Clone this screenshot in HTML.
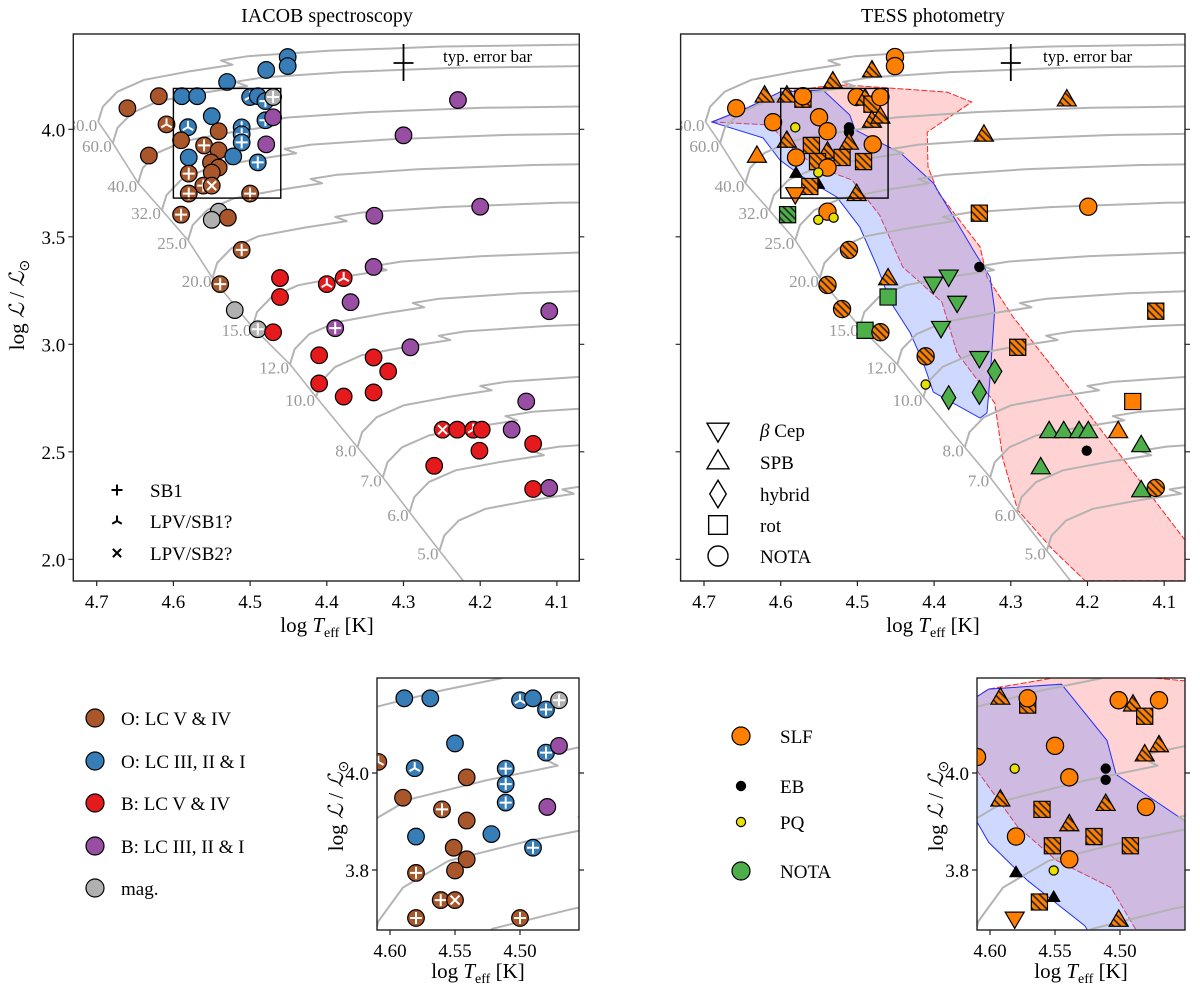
<!DOCTYPE html>
<html><head><meta charset="utf-8"><title>IACOB / TESS HRD</title>
<style>
html,body{margin:0;padding:0;background:#fff;width:1200px;height:994px;overflow:hidden;}
svg{display:block;font-family:"Liberation Serif",serif;}
</style></head>
<body>
<svg id="fig" xmlns="http://www.w3.org/2000/svg" width="1200" height="994" viewBox="0 0 1200 994">
<defs>
<pattern id="hO" width="5" height="5" patternUnits="userSpaceOnUse" patternTransform="rotate(-45)">
<rect width="5" height="5" fill="#ff7f00"/><line x1="2.5" y1="0" x2="2.5" y2="5" stroke="#222" stroke-width="1.6"/></pattern>
<pattern id="hG" width="5" height="5" patternUnits="userSpaceOnUse" patternTransform="rotate(-45)">
<rect width="5" height="5" fill="#4daf4a"/><line x1="2.5" y1="0" x2="2.5" y2="5" stroke="#222" stroke-width="1.6"/></pattern>
<clipPath id="cL"><rect x="73.3" y="34" width="506" height="547"/></clipPath>
<clipPath id="cR"><rect x="680.6" y="34" width="504.4" height="547"/></clipPath>
<clipPath id="cLI"><rect x="377" y="678" width="202" height="252"/></clipPath>
<clipPath id="cRI"><rect x="977" y="678" width="208" height="252"/></clipPath>
</defs>
</svg>
<script>
// ---------------- DATA ----------------
const zamsMass = [80,60,40,32,25,20,15,12,10,8,7,6,5];
const zamsT = [4.698,4.679,4.646,4.615,4.581,4.549,4.497,4.448,4.414,4.360,4.327,4.292,4.253];
const zamsL = [4.035,3.936,3.750,3.624,3.484,3.308,3.080,2.907,2.755,2.521,2.381,2.219,2.040];

const iacT = [4.660,4.619,4.589,4.569,4.530,4.479,4.451,4.451,4.609,4.581,4.632,4.590,4.560,4.550,4.541,4.541,4.580,4.580,4.551,4.541,4.550,4.561,4.550,4.580,4.500,4.511,4.511,4.511,4.522,4.490,4.500,4.490,4.480,4.470,4.480,4.470,4.479,4.590,4.541,4.550,4.529,4.511,4.539,4.520,4.490,4.470,4.461,4.461,4.400,4.378,4.339,4.369,4.389,4.110,4.291,4.410,4.410,4.339,4.320,4.378,4.339,4.140,4.249,4.230,4.209,4.198,4.159,4.201,4.131,4.260,4.131,4.110,4.229,4.300,4.338,4.200];
const iacL = [4.098,4.154,4.154,4.154,4.220,4.276,4.336,4.294,4.023,4.010,3.878,3.949,3.925,4.061,3.991,3.902,3.869,3.794,3.846,3.822,3.799,3.738,3.738,3.701,3.701,4.009,3.977,3.939,3.874,3.846,4.150,4.154,4.131,4.150,4.042,4.056,3.930,3.603,3.617,3.579,3.589,3.439,3.280,3.159,3.070,3.056,3.308,3.220,3.280,3.308,3.360,3.196,3.075,3.154,2.986,2.949,2.818,2.939,2.874,2.757,2.776,2.734,2.603,2.603,2.603,2.603,2.603,2.505,2.537,2.435,2.327,2.332,4.136,3.972,3.598,3.640];
const iacClass = ["OV","OV","OI","OI","OI","OI","OI","OI","OV","OI","OV","OV","OV","OI","OV","OV","OI","OV","OV","OV","OV","OV","OV","OV","OV","OI","OI","OI","OI","OI","OI","OI","OI","mag","OI","BI","BI","OV","mag","mag","OV","OV","OV","mag","mag","BV","BV","BV","BV","BV","BI","BI","BI","BI","BI","BV","BV","BV","BV","BV","BV","BI","BV","BV","BV","BV","BI","BV","BV","BV","BV","BI","BI","BI","BI","BI"];
const iacBin = ["","","","","","","","","LPV1","LPV1","","","SB1","","","","","SB1","","","","SB1","LPV2","SB1","SB1","SB1","SB1","SB1","","SB1","LPV1","","SB1","SB1","SB1","","","SB1","","","","SB1","SB1","","SB1","","","","LPV1","LPV1","","","SB1","","","","","","","","","","LPV2","","LPV1","","","","","","","","","","",""];

const tesT = [4.658,4.621,4.592,4.571,4.571,4.532,4.481,4.451,4.451,4.501,4.490,4.481,4.470,4.481,4.470,4.610,4.581,4.550,4.539,4.511,4.511,4.631,4.592,4.560,4.539,4.511,4.480,4.580,4.552,4.520,4.492,4.539,4.580,4.551,4.551,4.562,4.581,4.501,4.591,4.539,4.551,4.531,4.511,4.539,4.520,4.490,4.460,4.460,4.470,4.341,4.381,4.401,4.370,4.391,4.341,4.321,4.341,4.381,4.411,4.411,4.291,4.111,4.141,4.250,4.231,4.211,4.199,4.160,4.130,4.201,4.261,4.130,4.111,4.199,4.227,4.335,4.341];
const tesL = [4.098,4.154,4.154,4.140,4.154,4.220,4.271,4.336,4.294,4.150,4.140,4.117,4.150,4.037,4.056,4.033,4.009,4.056,3.991,4.009,3.986,3.874,3.944,3.925,3.893,3.935,3.930,3.869,3.850,3.869,3.850,3.822,3.794,3.799,3.743,3.734,3.701,3.696,3.603,3.617,3.579,3.589,3.439,3.276,3.164,3.065,3.220,3.304,3.056,3.360,3.318,3.285,3.196,3.079,2.939,2.874,2.776,2.752,2.813,2.944,2.986,3.154,2.734,2.593,2.593,2.593,2.593,2.593,2.528,2.505,2.425,2.318,2.332,3.640,4.136,3.972,3.610];
const tesVar = ["SLF","SLF","SLF","SLF","SLF","SLF","SLF","SLF","SLF","SLF","SLF","SLF","SLF","SLF","SLF","SLF","PQ","SLF","SLF","EB","EB","SLF","SLF","SLF","SLF","SLF","SLF","SLF","SLF","SLF","SLF","SLF","EB","PQ","EB","SLF","SLF","SLF","NOTA","SLF","PQ","PQ","SLF","SLF","SLF","NOTA","NOTA","SLF","SLF","EB","NOTA","NOTA","NOTA","NOTA","NOTA","NOTA","NOTA","NOTA","PQ","SLF","SLF","SLF","SLF","NOTA","NOTA","NOTA","NOTA","SLF","NOTA","EB","NOTA","NOTA","SLF","SLF","SLF","SLF","SLF"];
const tesShape = ["nota","spb","spb","rot","nota","spb","spb","nota","nota","nota","spb","rot","nota","spb","spb","nota","nota","nota","nota","nota","nota","spb","spb","rot","spb","spb","nota","nota","rot","rot","rot","nota","spb","nota","spb","rot","bc","spb","rot","nota","nota","nota","nota","nota","nota","rot","rot","spb","nota","nota","bc","bc","bc","bc","bc","hyb","hyb","hyb","nota","nota","rot","rot","rot","spb","spb","spb","spb","spb","spb","nota","spb","spb","nota","nota","spb","spb","rot"];
const tesHatch = [0,1,1,1,0,1,1,0,0,0,1,1,0,1,1,0,0,0,0,0,0,0,1,1,1,1,0,0,1,1,1,0,0,0,0,1,0,1,1,0,0,0,1,1,1,0,0,1,1,0,0,0,0,0,0,0,0,0,0,1,1,1,0,0,0,0,0,0,0,0,0,0,1,0,1,1,1];

const betaCepT = [4.690,4.644,4.601,4.545,4.510,4.503,4.444,4.401,4.362,4.349,4.327,4.321,4.327,4.331,4.340,4.401,4.414,4.431,4.457,4.474,4.497,4.527,4.571,4.601,4.623];
const betaCepL = [4.034,4.099,4.173,4.183,4.067,3.997,3.890,3.750,3.518,3.439,3.313,3.160,2.848,2.681,2.657,2.778,2.913,3.053,3.197,3.360,3.546,3.685,3.778,3.857,3.960];
const spbT = [4.690,4.614,4.579,4.549,4.507,4.471,4.441,4.390,4.370,4.321,4.310,4.291,4.245,4.203,4.073,4.073,4.219,4.297,4.331,4.340,4.395,4.408,4.409,4.351,4.383,4.514,4.549,4.601,4.644];
const spbL = [4.034,4.020,3.890,3.820,3.764,3.601,3.360,3.197,2.960,2.727,2.462,2.229,2.044,1.900,1.900,2.090,2.774,3.127,3.313,3.453,3.708,3.825,3.987,4.127,4.173,4.206,4.197,4.173,4.099];

const trackDT = [0,-0.006,-0.025,-0.06,-0.12,-0.175,-0.16,-0.195,-0.3,-0.45,-0.75];
const trackDL = [0,0.07,0.14,0.195,0.235,0.265,0.285,0.305,0.33,0.35,0.365];

const xTicksMain = [4.7,4.6,4.5,4.4,4.3,4.2,4.1];
const yTicksMain = [2.0,2.5,3.0,3.5,4.0];
const xTicksInset = [4.60,4.55,4.50];
const yTicksInset = [3.8,4.0];

// ---------------- HELPERS ----------------
const NS="http://www.w3.org/2000/svg";
const svg=document.getElementById('fig');
function mk(tag,parent){const e=document.createElementNS(NS,tag);parent.appendChild(e);return e;}
function at(e,o){for(const k in o)e.setAttribute(k,o[k]);return e;}
const panels={
 L:{x0:73.3,x1:579.3,y0:34,y1:581,Tref:4.7,xref:96.7,sx:767,Lref:4.0,yref:129.3,sy:215,clip:'cL'},
 R:{x0:680.6,x1:1185,y0:34,y1:581,Tref:4.7,xref:704,sx:767,Lref:4.0,yref:129.3,sy:215,clip:'cR'},
 LI:{x0:377,x1:579,y0:678,y1:930,Tref:4.6,xref:390,sx:1300,Lref:4.0,yref:773,sy:485,clip:'cLI'},
 RI:{x0:977,x1:1185,y0:678,y1:930,Tref:4.6,xref:990,sx:1300,Lref:4.0,yref:773,sy:485,clip:'cRI'}
};
function X(p,T){return p.xref+(p.Tref-T)*p.sx;}
function Y(p,L){return p.yref-(L-p.Lref)*p.sy;}
const clsColor={OV:'#a9562b',OI:'#377eb8',BV:'#e41a1c',BI:'#984ea3',mag:'#b0b0b0'};
const varColor={SLF:'#ff7f00',EB:'#000000',PQ:'#e8e000',NOTA:'#4daf4a'};

// geometric clipping (keeps element bounding boxes inside each panel)
function clipPolygon(pts,p){
 const edges=[
  [q=>q[0]>=p.x0,(a,b)=>{const t=(p.x0-a[0])/(b[0]-a[0]);return [p.x0,a[1]+t*(b[1]-a[1])];}],
  [q=>q[0]<=p.x1,(a,b)=>{const t=(p.x1-a[0])/(b[0]-a[0]);return [p.x1,a[1]+t*(b[1]-a[1])];}],
  [q=>q[1]>=p.y0,(a,b)=>{const t=(p.y0-a[1])/(b[1]-a[1]);return [a[0]+t*(b[0]-a[0]),p.y0];}],
  [q=>q[1]<=p.y1,(a,b)=>{const t=(p.y1-a[1])/(b[1]-a[1]);return [a[0]+t*(b[0]-a[0]),p.y1];}]
 ];
 let out=pts;
 edges.forEach(([inside,inter])=>{
  const inp=out;out=[];
  for(let i=0;i<inp.length;i++){
   const cur=inp[i],prev=inp[(i+inp.length-1)%inp.length];
   if(inside(cur)){if(!inside(prev))out.push(inter(prev,cur));out.push(cur);}
   else if(inside(prev)){out.push(inter(prev,cur));}
  }
 });
 return out;
}
function clipSeg(a,b,p){
 let t0=0,t1=1;const dx=b[0]-a[0],dy=b[1]-a[1];
 const P=[-dx,dx,-dy,dy],Q=[a[0]-p.x0,p.x1-a[0],a[1]-p.y0,p.y1-a[1]];
 for(let i=0;i<4;i++){
  if(P[i]===0){if(Q[i]<0)return null;}
  else{const r=Q[i]/P[i];if(P[i]<0){if(r>t1)return null;if(r>t0)t0=r;}else{if(r<t0)return null;if(r<t1)t1=r;}}
 }
 return [[a[0]+t0*dx,a[1]+t0*dy],[a[0]+t1*dx,a[1]+t1*dy]];
}
function clipPolylineD(pts,p){
 let d='',last=null;
 for(let i=0;i<pts.length-1;i++){
  const s=clipSeg(pts[i],pts[i+1],p);if(!s)continue;
  if(!last||Math.abs(last[0]-s[0][0])>0.01||Math.abs(last[1]-s[0][1])>0.01)d+='M'+s[0][0].toFixed(1)+','+s[0][1].toFixed(1);
  d+='L'+s[1][0].toFixed(1)+','+s[1][1].toFixed(1);last=s[1];
 }
 return d;
}

function shapePath(shape,cx,cy,s){
 if(shape==='spb'){return `M${cx-s},${cy+s*0.62}L${cx+s},${cy+s*0.62}L${cx},${cy-s*1.1}Z`;}
 if(shape==='bc'){return `M${cx-s},${cy-s*0.62}L${cx+s},${cy-s*0.62}L${cx},${cy+s*1.1}Z`;}
 if(shape==='hyb'){return `M${cx},${cy-s*1.25}L${cx+s*0.75},${cy}L${cx},${cy+s*1.25}L${cx-s*0.75},${cy}Z`;}
 if(shape==='rot'){return `M${cx-s*0.85},${cy-s*0.85}h${s*1.7}v${s*1.7}h${-s*1.7}Z`;}
 return null;
}
function binGlyph(g,bin,cx,cy,col,w,r){
 if(bin==='SB1'){
  const p=mk('path',g);at(p,{d:`M${cx-r},${cy}H${cx+r}M${cx},${cy-r}V${cy+r}`,stroke:col,'stroke-width':w,fill:'none'});
  
  
 } else if(bin==='LPV1'){
  const a=r*0.87,b=r*0.5;
  const p=mk('path',g);at(p,{d:`M${cx},${cy}V${cy-r}M${cx},${cy}L${cx-a},${cy+b}M${cx},${cy}L${cx+a},${cy+b}`,stroke:col,'stroke-width':w,fill:'none'});
  
  
 } else if(bin==='LPV2'){
  const a=r*0.75;
  const p=mk('path',g);at(p,{d:`M${cx-a},${cy-a}L${cx+a},${cy+a}M${cx-a},${cy+a}L${cx+a},${cy-a}`,stroke:col,'stroke-width':w,fill:'none'});
  
  
 }
}
function text(parent,x,y,str,opt){
 const t=mk('text',parent);at(t,Object.assign({x:x,y:y,'font-size':19,fill:'#000'},opt||{}));t.textContent=str;return t;
}

// ---------------- PANEL DRAWING ----------------
function drawTracks(p,g,withLabels,withZams){
 for(let i=0;i<zamsMass.length;i++){
  const pts=[];
  for(let j=0;j<trackDT.length;j++){pts.push([X(p,zamsT[i]+trackDT[j]),Y(p,zamsL[i]+trackDL[j])]);}
  const d=clipPolylineD(pts,p);
  if(!d)continue;
  const tr=mk('path',g);at(tr,{d:d,fill:'none',stroke:'#b3b3b3','stroke-width':2,'stroke-linejoin':'round'});
  
  
 }
 if(withZams){
  const zp=[];
  for(let i=0;i<zamsMass.length;i++){zp.push([X(p,zamsT[i]),Y(p,zamsL[i])]);}
  zp.push([X(p,4.20),Y(p,1.80)]);
  const zd=clipPolylineD(zp,p);
  if(zd){
   const z=mk('path',g);at(z,{d:zd,fill:'none',stroke:'#b3b3b3','stroke-width':1.6});
   
   
  }
 }
 if(withLabels){
  for(let i=0;i<zamsMass.length;i++){
   const t=text(g,X(p,zamsT[i])-1,Y(p,zamsL[i])+9,zamsMass[i].toFixed(1),{'text-anchor':'end','font-size':17,fill:'#999'});
   
   
  }
 }
}
function inView(p,cx,cy){return cx>p.x0-12&&cx<p.x1+12&&cy>p.y0-12&&cy<p.y1+12;}
function drawIacob(p,g){
 for(let i=0;i<iacT.length;i++){
  const cx=X(p,iacT[i]),cy=Y(p,iacL[i]);
  if(!inView(p,cx,cy))continue;
  const c=mk('circle',g);at(c,{cx:cx,cy:cy,r:8.3,fill:clsColor[iacClass[i]],stroke:'#000','stroke-width':1.2});
  
  
  if(iacBin[i])binGlyph(g,iacBin[i],cx,cy,'#fff',2,6);
 }
}
function drawTess(p,g){
 for(let i=0;i<tesT.length;i++){
  const cx=X(p,tesT[i]),cy=Y(p,tesL[i]);
  if(!inView(p,cx,cy))continue;
  const v=tesVar[i];
  const small=(v==='EB'||v==='PQ');
  let fill=varColor[v];
  if(tesHatch[i])fill=(v==='NOTA')?'url(#hG)':'url(#hO)';
  const d=shapePath(tesShape[i],cx,cy,small?6:9.5);
  let m;
  if(d){m=mk('path',g);at(m,{d:d});}
  else{m=mk('circle',g);at(m,{cx:cx,cy:cy,r:small?4.6:8.6});}
  at(m,{fill:fill,stroke:'#000','stroke-width':1.2});
  
  
 }
}
function polyD(pts){let d='';pts.forEach((q,i)=>{d+=(i?'L':'M')+q[0].toFixed(1)+','+q[1].toFixed(1);});return d+'Z';}
function drawRegions(p,g){
 const rp=clipPolygon(spbT.map((t,i)=>[X(p,t),Y(p,spbL[i])]),p);
 if(rp.length>2){
  const r=mk('path',g);at(r,{d:polyD(rp),fill:'rgba(255,120,120,0.33)',stroke:'#ff2020','stroke-width':1,'stroke-dasharray':'6,2'});
  
  
 }
 const bp=clipPolygon(betaCepT.map((t,i)=>[X(p,t),Y(p,betaCepL[i])]),p);
 if(bp.length>2){
  const b=mk('path',g);at(b,{d:polyD(bp),fill:'rgba(110,140,255,0.33)',stroke:'#2030ff','stroke-width':1});
  
  
 }
}
function drawFrame(p,key,xt,yt,xfmt,yfmt,ylabels){
 const g=mk('g',svg);
 
 
 const f=mk('rect',g);at(f,{x:p.x0,y:p.y0,width:p.x1-p.x0,height:p.y1-p.y0,fill:'none',stroke:'#222','stroke-width':1.4});
 
 
 xt.forEach(v=>{
  const x=X(p,v);
  const t=mk('line',g);at(t,{x1:x,x2:x,y1:p.y1,y2:p.y1+5,stroke:'#222','stroke-width':1.2});
  
  
  const lb=text(g,x,p.y1+27,v.toFixed(xfmt),{'text-anchor':'middle'});
  
  
 });
 yt.forEach(v=>{
  const y=Y(p,v);
  const t=mk('path',g);at(t,{d:`M${p.x0-5},${y}H${p.x0}M${p.x1},${y}H${p.x1+5}`,stroke:'#222','stroke-width':1.2});
  
  
  if(ylabels){
   const lb=text(g,p.x0-8,y+7,v.toFixed(yfmt),{'text-anchor':'end'});
   
   
  }
 });
 return g;
}
function xLabel(x,y,parent){
 const t=mk('text',parent);at(t,{x:x,y:y,'text-anchor':'middle','font-size':21});
 t.innerHTML='log <tspan font-style="italic">T</tspan><tspan font-size="14" dy="5">eff</tspan><tspan dy="-5"> [K]</tspan>';
 
 
}
function yLabel(x,y,parent){
 const t=mk('text',parent);at(t,{x:0,y:0,'text-anchor':'middle','font-size':21,transform:`translate(${x},${y}) rotate(-90)`});
 t.innerHTML='log <tspan font-style="italic">ℒ</tspan> / <tspan font-style="italic">ℒ</tspan><tspan font-size="14" dy="5">⊙</tspan>';
 
 
}
function boxRect(p,g){
 const r=mk('rect',g);
 at(r,{x:X(p,4.6),y:Y(p,4.19),width:X(p,4.46)-X(p,4.6),height:Y(p,3.68)-Y(p,4.19),fill:'none',stroke:'#000','stroke-width':1.4});
 
 
}
function errBar(p,g,tx){
 const x=X(p,4.3),y=63;
 const e=mk('path',g);at(e,{d:`M${x},${y-19}V${y+18}M${x-10},${y}H${x+10}`,stroke:'#000','stroke-width':1.8});
 
 
 const t=text(g,tx,62,'typ. error bar',{'font-size':17});
 
 
}

// ---- Left main panel
(function(){
 const p=panels.L;
 const g=mk('g',svg);at(g,{'clip-path':'url(#cL)'});
 
 
 drawTracks(p,g,true,true);drawIacob(p,g);boxRect(p,g);errBar(p,g,443);
 drawFrame(p,'iacob',xTicksMain,yTicksMain,1,1,true);
 const ti=text(svg,327,22,'IACOB spectroscopy',{'text-anchor':'middle','font-size':20});
 
 
 xLabel(327,632,svg);yLabel(24,305,svg);
 const lg=mk('g',svg);
 
 
 const items=[['SB1','SB1',490],['LPV1','LPV/SB1?',521],['LPV2','LPV/SB2?',553]];
 items.forEach(it=>{
  binGlyph(lg,it[0],117,it[2],'#000',2,5.5);
  const t=text(lg,150,it[2]+7,it[1]);
  
  
 });
})();

// ---- Right main panel
(function(){
 const p=panels.R;
 const g=mk('g',svg);at(g,{'clip-path':'url(#cR)'});
 
 
 drawRegions(p,g);drawTracks(p,g,true,true);drawTess(p,g);boxRect(p,g);errBar(p,g,1043);
 drawFrame(p,'tess',xTicksMain,yTicksMain,1,1,false);
 const ti=text(svg,933,22,'TESS photometry',{'text-anchor':'middle','font-size':20});
 
 
 xLabel(933,632,svg);
 const lg=mk('g',svg);
 
 
 const items=[['bc',430],['spb',462],['hyb',494],['rot',525],['nota',556]];
 const labels={bc:'Cep',spb:'SPB',hyb:'hybrid',rot:'rot',nota:'NOTA'};
 items.forEach(it=>{
  const d=shapePath(it[0],718,it[1],11);let m;
  if(d){m=mk('path',lg);at(m,{d:d});}else{m=mk('circle',lg);at(m,{cx:718,cy:it[1],r:10});}
  at(m,{fill:'none',stroke:'#000','stroke-width':1.4});
  
  
  const t=text(lg,760,it[1]+7,'');
  if(it[0]==='bc'){t.innerHTML='<tspan font-style="italic">β</tspan> Cep';}else{t.textContent=labels[it[0]];}
  
  
 });
})();

// ---- Left inset
(function(){
 const p=panels.LI;
 const g=mk('g',svg);at(g,{'clip-path':'url(#cLI)'});
 
 
 drawTracks(p,g,false,false);drawIacob(p,g);
 drawFrame(p,'iacob-inset',xTicksInset,yTicksInset,2,1,true);
 xLabel(478,978,svg);yLabel(343,806,svg);
})();

// ---- Right inset
(function(){
 const p=panels.RI;
 const g=mk('g',svg);at(g,{'clip-path':'url(#cRI)'});
 
 
 drawRegions(p,g);drawTracks(p,g,false,false);drawTess(p,g);
 drawFrame(p,'tess-inset',xTicksInset,yTicksInset,2,1,true);
 xLabel(1081,978,svg);yLabel(943,806,svg);
})();

// ---- Spectral class legend
(function(){
 const lg=mk('g',svg);
 
 
 const items=[['OV','O: LC V & IV',718],['OI','O: LC III, II & I',761],['BV','B: LC V & IV',803],['BI','B: LC III, II & I',846],['mag','mag.',888]];
 items.forEach(it=>{
  const c=mk('circle',lg);at(c,{cx:95,cy:it[2],r:9,fill:clsColor[it[0]],stroke:'#000','stroke-width':1.2});
  
  
  const t=text(lg,121,it[2]+7,it[1]);
  
  
 });
})();

// ---- Variability class legend
(function(){
 const lg=mk('g',svg);
 
 
 const items=[['SLF',736,9],['EB',786,4.6],['PQ',822,4.6],['NOTA',871,9]];
 items.forEach(it=>{
  const c=mk('circle',lg);at(c,{cx:741,cy:it[1],r:it[2],fill:varColor[it[0]],stroke:'#000','stroke-width':1.2});
  
  
  const t=text(lg,780,it[1]+7,it[0]);
  
  
 });
})();
</script>
</body></html>
